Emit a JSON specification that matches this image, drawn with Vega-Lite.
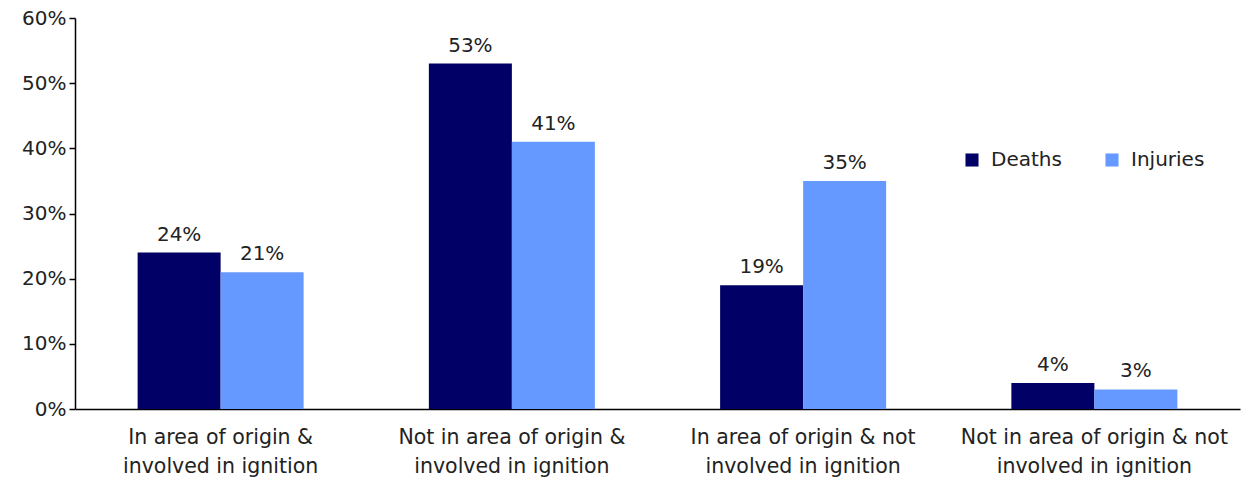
{
  "$schema": "https://vega.github.io/schema/vega-lite/v6.json",
  "autosize": {"type": "none"},
  "width": 1165,
  "height": 391,
  "padding": {"left": 75, "top": 18, "right": 9, "bottom": 71},
  "background": "white",
  "config": {
    "font": "DejaVu Sans",
    "view": {"stroke": null},
    "axis": {"labelFont": "DejaVu Sans", "labelColor": "#222222", "domainColor": "#000000", "tickColor": "#000000", "domainWidth": 1.5, "tickWidth": 1.5},
    "legend": {"labelFont": "DejaVu Sans"}
  },
  "data": {
    "values": [
      {"category": "In area of origin & involved in ignition", "type": "Deaths", "value": 0.24},
      {"category": "In area of origin & involved in ignition", "type": "Injuries", "value": 0.21},
      {"category": "Not in area of origin & involved in ignition", "type": "Deaths", "value": 0.53},
      {"category": "Not in area of origin & involved in ignition", "type": "Injuries", "value": 0.41},
      {"category": "In area of origin & not involved in ignition", "type": "Deaths", "value": 0.19},
      {"category": "In area of origin & not involved in ignition", "type": "Injuries", "value": 0.35},
      {"category": "Not in area of origin & not involved in ignition", "type": "Deaths", "value": 0.04},
      {"category": "Not in area of origin & not involved in ignition", "type": "Injuries", "value": 0.03}
    ]
  },
  "encoding": {
    "x": {
      "field": "category",
      "type": "nominal",
      "sort": null,
      "scale": {"paddingInner": 0.43, "paddingOuter": 0.215},
      "axis": {
        "title": null,
        "labelAngle": 0,
        "ticks": false,
        "labelPadding": 18,
        "labelFontSize": 20.5,
        "labelLineHeight": 29,
        "labelLimit": 0,
        "labelOverlap": false,
        "labelExpr": "[slice(datum.label, 0, indexof(datum.label, ' involved')), 'involved in ignition']"
      }
    },
    "xOffset": {"field": "type", "type": "nominal", "sort": ["Deaths", "Injuries"], "scale": {"paddingInner": 0, "paddingOuter": 0}},
    "y": {
      "field": "value",
      "type": "quantitative",
      "scale": {"domain": [0, 0.6]},
      "axis": {
        "title": null,
        "format": ".0%",
        "values": [0, 0.1, 0.2, 0.3, 0.4, 0.5, 0.6],
        "labelOverlap": false,
        "labelBound": false,
        "labelFlush": false,
        "grid": false,
        "tickSize": 6,
        "labelPadding": 3,
        "labelFontSize": 20
      }
    }
  },
  "layer": [
    {
      "mark": {"type": "bar"},
      "encoding": {
        "color": {
          "field": "type",
          "type": "nominal",
          "sort": ["Deaths", "Injuries"],
          "scale": {"domain": ["Deaths", "Injuries"], "range": ["#000066", "#6699FF"]},
          "legend": {
            "title": null,
            "orient": "none",
            "direction": "horizontal",
            "legendX": 887,
            "legendY": 132,
            "symbolType": "square",
            "symbolSize": 170,
            "symbolStrokeWidth": 0,
            "labelFontSize": 20,
            "labelColor": "#222222",
            "labelOffset": 9,
            "columnPadding": 40
          }
        }
      }
    },
    {
      "mark": {"type": "text", "baseline": "alphabetic", "dy": -12, "fontSize": 20, "color": "#222222"},
      "encoding": {
        "text": {"field": "value", "type": "quantitative", "format": ".0%"}
      }
    }
  ]
}
